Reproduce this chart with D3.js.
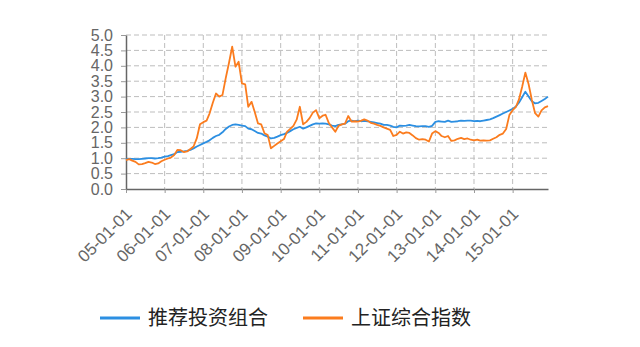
<!DOCTYPE html>
<html>
<head>
<meta charset="utf-8">
<script src="https://cdn.jsdelivr.net/npm/d3@7"></script>
<style>
  body { margin: 0; background: #fff; }
  svg { display: block; }
</style>
</head>
<body>
<div class="container"></div>
<script>
const w = 640
const h = 347

// monthly, 2005-01 .. 2015-12
const startMonth = "2005-01-01"
const portfolio = [
  0.97,0.98,0.98,0.97,0.97,0.98,0.99,1.00,1.00,0.99,1.00,1.02,
  1.05,1.07,1.10,1.13,1.20,1.21,1.22,1.24,1.27,1.32,1.38,1.43,
  1.48,1.53,1.58,1.66,1.72,1.76,1.84,1.95,2.03,2.08,2.10,2.08,
  2.06,2.04,1.96,1.94,1.88,1.82,1.80,1.74,1.70,1.64,1.66,1.70,
  1.75,1.78,1.82,1.88,1.94,1.98,2.02,1.96,2.00,2.05,2.10,2.13,
  2.12,2.13,2.12,2.10,2.06,2.04,2.08,2.10,2.12,2.20,2.22,2.20,
  2.22,2.20,2.21,2.20,2.18,2.16,2.14,2.12,2.08,2.08,2.06,2.02,
  2.00,2.06,2.05,2.06,2.08,2.06,2.04,2.03,2.04,2.04,2.02,2.05,
  2.18,2.20,2.19,2.18,2.22,2.18,2.19,2.20,2.22,2.21,2.22,2.22,
  2.20,2.21,2.20,2.22,2.24,2.26,2.30,2.35,2.40,2.45,2.50,2.55,
  2.60,2.68,2.80,2.98,3.16,3.00,2.85,2.78,2.80,2.86,2.92,3.00
]
const shIndex = [
  0.94,0.97,0.92,0.88,0.80,0.81,0.84,0.88,0.86,0.81,0.83,0.90,
  0.95,0.99,1.02,1.10,1.27,1.26,1.20,1.22,1.30,1.38,1.65,2.10,
  2.17,2.22,2.45,2.80,3.10,3.00,3.05,3.60,4.10,4.62,3.97,4.13,
  3.43,3.40,2.67,2.83,2.50,2.13,2.10,1.81,1.75,1.32,1.40,1.48,
  1.55,1.62,1.85,1.95,2.05,2.25,2.67,2.10,2.18,2.30,2.48,2.56,
  2.30,2.38,2.41,2.14,2.00,1.86,2.05,2.10,2.12,2.37,2.19,2.20,
  2.19,2.22,2.26,2.22,2.15,2.12,2.08,2.05,2.00,1.96,1.92,1.72,
  1.76,1.86,1.80,1.84,1.82,1.74,1.65,1.60,1.62,1.60,1.54,1.80,
  1.88,1.82,1.72,1.68,1.72,1.56,1.58,1.63,1.66,1.62,1.64,1.60,
  1.58,1.60,1.57,1.58,1.57,1.58,1.63,1.68,1.76,1.80,1.95,2.40,
  2.56,2.67,2.90,3.32,3.78,3.40,2.90,2.46,2.35,2.55,2.65,2.69
]
const seriesNames = ["推荐投资组合", "上证综合指数"]
const seriesColors = ["#2c8fe2", "#fb7c1e"]
const yTicks = [0,0.5,1,1.5,2,2.5,3,3.5,4,4.5,5]

const parse = d3.timeParse("%Y-%m-%d")
const t0 = parse(startMonth)
const dates = portfolio.map((d, i) => d3.timeMonth.offset(t0, i))

const m = {left: 126, right: 92, top: 35, bottom: 158}

const svg = d3.select(".container")
              .append("svg")
              .attr("width", w)
              .attr("height", h)

const xScale = d3.scaleTime()
                 .domain([dates[0], dates[dates.length - 1]])
                 .range([m.left, w - m.right])

const yScale = d3.scaleLinear()
                 .domain([0, 5])
                 .range([h - m.bottom, m.top])

const xTicks = d3.range(2005, 2016).map(y => new Date(y, 0, 1))

// grid
svg.append("g")
   .selectAll("line")
   .data(yTicks.slice(1))
   .enter()
   .append("line")
     .attr("x1", m.left)
     .attr("x2", w - m.right)
     .attr("y1", d => yScale(d))
     .attr("y2", d => yScale(d))
     .attr("stroke", "#bdbdbd")
     .attr("stroke-dasharray", "5,3")

svg.append("g")
   .selectAll("line")
   .data(xTicks.slice(1))
   .enter()
   .append("line")
     .attr("x1", d => xScale(d))
     .attr("x2", d => xScale(d))
     .attr("y1", m.top)
     .attr("y2", h - m.bottom)
     .attr("stroke", "#bdbdbd")
     .attr("stroke-dasharray", "5,3")

// axes
const xAxis = d3.axisBottom(xScale)
                .tickValues(xTicks)
                .tickFormat(d3.timeFormat("%y-%m-%d"))
                .tickSize(4)
                .tickSizeOuter(0)

const yAxis = d3.axisLeft(yScale)
                .tickValues(yTicks)
                .tickFormat(d3.format(".1f"))
                .tickSize(5)
                .tickSizeOuter(0)

const gx = svg.append("g")
              .attr("transform", `translate(0, ${h - m.bottom})`)
              .call(xAxis)
gx.select(".domain").attr("stroke", "#666").attr("stroke-width", 1.5)
gx.selectAll(".tick line").attr("stroke", "#999")
gx.selectAll("text")
  .attr("font-family", "Liberation Sans, Arial, sans-serif")
  .attr("font-size", 17)
  .attr("fill", "#666")
  .attr("text-anchor", "end")
  .attr("dx", "-14px")
  .attr("dy", "16px")
  .attr("transform", "rotate(-45)")

const gy = svg.append("g")
              .attr("transform", `translate(${m.left}, 0)`)
              .call(yAxis)
gy.select(".domain").attr("stroke", "#666").attr("stroke-width", 1.5)
gy.selectAll(".tick line").attr("stroke", "#999")
gy.selectAll("text")
  .attr("font-family", "Liberation Sans, Arial, sans-serif")
  .attr("font-size", 16)
  .attr("fill", "#666")
  .attr("x", -13)

// lines
const line = d3.line()
               .x((d, i) => xScale(dates[i]))
               .y(d => yScale(d))

svg.selectAll(".series")
   .data([portfolio, shIndex])
   .enter()
   .append("path")
     .attr("class", "series")
     .attr("d", line)
     .attr("fill", "none")
     .attr("stroke", (d, i) => seriesColors[i])
     .attr("stroke-width", 1.8)
     .attr("stroke-linejoin", "round")

// legend
const legend = svg.append("g")
                  .attr("transform", "translate(100, 318)")

const items = legend.selectAll("g")
                    .data(seriesNames)
                    .enter()
                    .append("g")
                      .attr("transform", (d, i) => `translate(${i * 203}, 0)`)

items.append("line")
     .attr("x1", 0)
     .attr("x2", 40)
     .attr("stroke", (d, i) => seriesColors[i])
     .attr("stroke-width", 3)

items.append("text")
     .attr("x", 48)
     .attr("dy", "0.35em")
     .attr("font-family", "Noto Sans CJK SC, sans-serif")
     .attr("font-size", 20)
     .attr("fill", "#222")
     .text(d => d)
</script>
</body>
</html>
